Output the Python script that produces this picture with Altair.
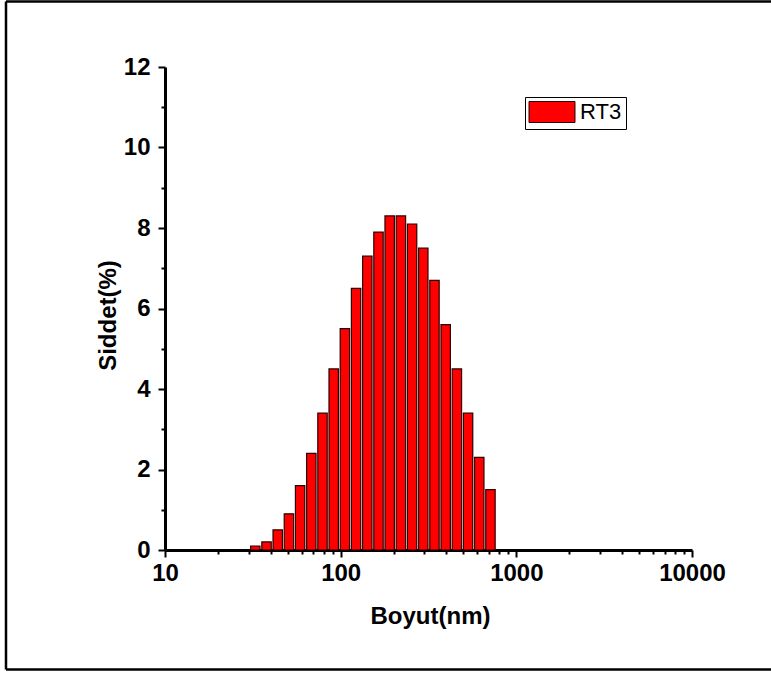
import altair as alt
import pandas as pd

# Size classes (nm) and intensity distribution (%) for sample RT3
sizes = [32.67, 37.84, 43.82, 50.75, 58.77, 68.06, 78.82, 91.28, 105.7, 122.4,
         141.8, 164.2, 190.1, 220.2, 255.0, 295.3, 342.0, 396.1, 458.7, 531.2,
         615.1, 712.4]
intensity = [0.1, 0.2, 0.5, 0.9, 1.6, 2.4, 3.4, 4.5, 5.5, 6.5,
             7.3, 7.9, 8.3, 8.3, 8.1, 7.5, 6.7, 5.6, 4.5, 3.4,
             2.3, 1.5]
sample_name = "RT3"

x_major = [10, 100, 1000, 10000]
x_ticks = [m * d for d in (10, 100, 1000) for m in range(1, 10)] + [10000]
y_ticks = list(range(0, 13))

df = pd.DataFrame({"size": sizes, "intensity": intensity, "sample": sample_name})

FONT = "Liberation Sans"
W, H = 527, 483

x_axis = alt.Axis(
    values=x_ticks,
    format="d",
    labelExpr="indexof(%s, datum.value) >= 0 ? datum.label : ''" % str(x_major),
    tickSize={"condition": {"test": "indexof(%s, datum.value) < 0" % str(x_major), "value": 4}, "value": 7},
    tickWidth=2, tickColor="black",
    domainWidth=3, domainColor="black",
    labelFont=FONT, labelFontSize=24, labelFontWeight="bold", labelColor="black",
    labelPadding=4, labelFlush=False, labelOverlap=False,
    grid=False,
    titleFont=FONT, titleFontSize=24, titleFontWeight="bold", titleColor="black",
    titleX=265, titleY=73, titleBaseline="alphabetic", titleAlign="center",
)

y_axis = alt.Axis(
    values=y_ticks,
    labelExpr="datum.value % 2 == 0 ? datum.label : ''",
    tickSize={"condition": {"test": "datum.value % 2 == 1", "value": 4}, "value": 7},
    tickWidth=2, tickColor="black",
    domainWidth=3, domainColor="black",
    labelFont=FONT, labelFontSize=24, labelFontWeight="bold", labelColor="black",
    labelPadding=8, labelFlush=False, labelOverlap=False,
    grid=False,
    titleFont=FONT, titleFontSize=24, titleFontWeight="bold", titleColor="black",
    titleX=-50, titleY=248, titleAngle=270, titleBaseline="alphabetic", titleAlign="center",
)

bars = alt.Chart(df).transform_calculate(
    lo="datum.size * pow(1.158, -0.42)",
    hi="datum.size * pow(1.158, 0.42)",
).mark_bar(stroke="#2a0000", strokeWidth=1.2, opacity=1).encode(
    x=alt.X("lo:Q", scale=alt.Scale(type="log", domain=[10, 10000], nice=False),
            axis=x_axis, title="Boyut(nm)"),
    x2="hi:Q",
    y=alt.Y("intensity:Q", scale=alt.Scale(domain=[0, 12], nice=False, zero=True),
            axis=y_axis, title="Siddet(%)"),
    y2=alt.datum(0),
    color=alt.Color(
        "sample:N",
        scale=alt.Scale(domain=[sample_name], range=["#ff0000"]),
        legend=alt.Legend(
            title=None, orient="none", legendX=360, legendY=30,
            strokeColor="black", fillColor="white", padding=4,
            symbolType="M-2.19,-1H2.19V1H-2.19Z", symbolSize=441,
            symbolOffset=12, labelOffset=17,
            symbolStrokeColor="#2a0000", symbolStrokeWidth=1, symbolOpacity=1,
            labelFont=FONT, labelFontSize=22, labelFontWeight="normal", labelColor="black",
        ),
    ),
)

# Outer frame around the whole figure (open on the right, where it runs off the page)
frame_top = alt.Chart(pd.DataFrame({"k": [0]})).mark_rule(
    stroke="black", strokeWidth=2.5
).encode(x=alt.value(-159), x2=alt.value(700), y=alt.value(-65.5))
frame_bottom = alt.Chart(pd.DataFrame({"k": [0]})).mark_rule(
    stroke="black", strokeWidth=2.5
).encode(x=alt.value(-159), x2=alt.value(700), y=alt.value(602.5))
frame_left = alt.Chart(pd.DataFrame({"k": [0]})).mark_rule(
    stroke="black", strokeWidth=2.5
).encode(x=alt.value(-159), y=alt.value(-65.5), y2=alt.value(602.5))

chart = alt.layer(frame_top, frame_bottom, frame_left, bars).properties(
    width=W, height=H,
    autosize=alt.AutoSizeParams(type="none"),
    padding={"left": 165, "top": 67, "right": 79, "bottom": 125},
    background="white",
).configure_view(strokeWidth=0)

chart.save("out.html", embed_options={"renderer": "svg", "actions": False})
